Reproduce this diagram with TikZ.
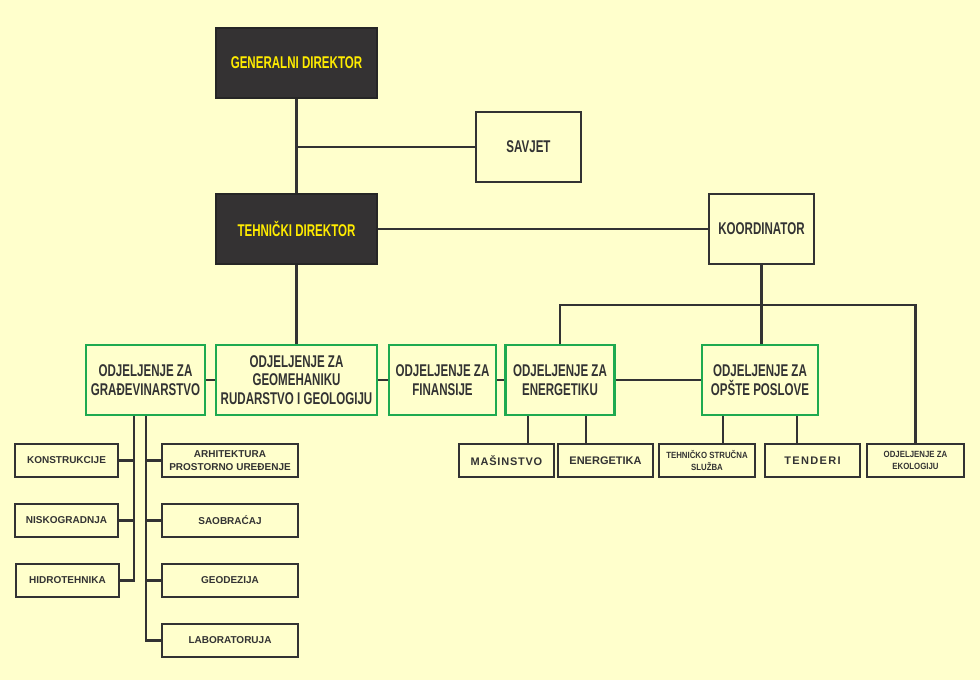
\documentclass[tikz,border=0pt]{standalone}
\usepackage{fontspec}
\setmainfont{Liberation Sans}
\newfontfamily\cond[FakeStretch=0.68]{Liberation Sans Bold}
\newfontfamily\scond[FakeStretch=0.87]{Liberation Sans Bold}
\newfontfamily\bsans{Liberation Sans Bold}
\definecolor{bg}{RGB}{255,255,204}
\definecolor{darkbox}{RGB}{52,50,51}
\definecolor{ytext}{RGB}{255,236,0}
\definecolor{txt}{RGB}{51,51,51}
\definecolor{line}{RGB}{51,51,51}
\definecolor{grn}{RGB}{30,170,80}
\tikzset{
  base/.style={rectangle, inner sep=0pt, align=center, text=txt},
  bigfont/.style={font=\cond\fontsize{17}{18.6}\selectfont},
  darkbox/.style={base, bigfont, fill=darkbox, draw=black!85, line width=1.2pt, text=ytext, minimum width=161pt, minimum height=70pt},
  plainbox/.style={base, bigfont, fill=bg, draw=line, line width=2pt, minimum height=70pt},
  dept/.style={base, bigfont, fill=bg, draw=grn, line width=2.6pt, minimum height=70pt},
  small/.style={base, fill=bg, draw=line, line width=2.4pt, minimum height=33pt, font=\bsans\fontsize{10}{12.3}\selectfont},
  smallb/.style={small, font=\bsans\fontsize{11}{12.5}\selectfont},
  smallc/.style={small, font=\scond\fontsize{9}{12}\selectfont},
  conn/.style={draw=line, line width=2.2pt}
}
\begin{document}
\begin{tikzpicture}[x=1pt,y=-1pt]
\fill[bg] (0,0) rectangle (980,680);
\useasboundingbox (0,0) rectangle (980,680);

% top level
\node[darkbox] (gd) at (296.5,63) {GENERALNI DIREKTOR};
\node[plainbox, minimum width=105pt] (savjet) at (528.5,147) {SAVJET};
\node[darkbox] (td) at (296.5,229) {TEHNIČKI DIREKTOR};
\node[plainbox, minimum width=105pt] (koord) at (761.5,229) {KOORDINATOR};

% departments
\node[dept, minimum width=119pt] (grad) at (145.5,380) {ODJELJENJE ZA\\GRAĐEVINARSTVO};
\node[dept, minimum width=161pt] (geo) at (296.5,380) {ODJELJENJE ZA\\GEOMEHANIKU\\RUDARSTVO I GEOLOGIJU};
\node[dept, minimum width=107pt] (fin) at (442.5,380) {ODJELJENJE ZA\\FINANSIJE};
\node[dept, minimum width=109pt] (ener) at (560,380) {ODJELJENJE ZA\\ENERGETIKU};
\node[dept, minimum width=116pt] (opste) at (760,380) {ODJELJENJE ZA\\OPŠTE POSLOVE};

% right sub-boxes
\node[smallb, minimum width=95pt] (masin) at (506.5,460.5) {\addfontfeature{LetterSpace=7}MAŠINSTVO};
\node[smallb, minimum width=95pt] (energetika) at (605.5,460.5) {ENERGETIKA};
\node[smallc, minimum width=96pt] (tehs) at (707,460.5) {TEHNIČKO STRUČNA\\SLUŽBA};
\node[smallb, minimum width=95pt] (tenderi) at (812.5,460.5) {\addfontfeature{LetterSpace=12}TENDERI};
\node[smallc, minimum width=97pt] (eko) at (915.5,460.5) {ODJELJENJE ZA\\EKOLOGIJU};

% left sub-boxes
\node[small, minimum width=103pt] (konstr) at (66.5,460.5) {KONSTRUKCIJE};
\node[small, minimum width=103pt] (nisko) at (66.5,520.5) {NISKOGRADNJA};
\node[small, minimum width=103pt] (hidro) at (67.5,580.5) {HIDROTEHNIKA};
\node[small, minimum width=136pt] (arh) at (230,460.5) {ARHITEKTURA\\PROSTORNO UREĐENJE};
\node[small, minimum width=136pt] (saob) at (230,520.5) {SAOBRAĆAJ};
\node[small, minimum width=136pt] (geod) at (230,580.5) {GEODEZIJA};
\node[small, minimum width=136pt] (lab) at (230,640.5) {LABORATORUJA};

% helper coordinates
\coordinate (bus) at (0,305);
\coordinate (tl) at (134,0);
\coordinate (tr) at (146,0);
\coordinate (e1) at (528,0);
\coordinate (e2) at (586,0);
\coordinate (o1) at (723,0);
\coordinate (o2) at (797,0);

% connectors
\draw[conn] (gd.south) -- (td.north);
\draw[conn] (savjet.west) -- (savjet.west -| gd.south);
\draw[conn] (td.east) -- (koord.west);
\draw[conn] (td.south) -- (geo.north);
\draw[conn] (koord.south) -- (koord.south |- opste.north);
\draw[conn] (ener.north) |- (bus -| eko.north) -- (eko.north);
\draw[conn] (grad.east) -- (geo.west);
\draw[conn] (geo.east) -- (fin.west);
\draw[conn] (fin.east) -- (ener.west);
\draw[conn] (ener.east) -- (opste.west);
\draw[conn] (e1 |- ener.south) -- (e1 |- masin.north);
\draw[conn] (e2 |- ener.south) -- (e2 |- energetika.north);
\draw[conn] (o1 |- opste.south) -- (o1 |- tehs.north);
\draw[conn] (o2 |- opste.south) -- (o2 |- tenderi.north);
\draw[conn] (tl |- grad.south) -- (tl |- hidro.east) -- (hidro.east);
\draw[conn] (konstr.east) -- (konstr.east -| tl);
\draw[conn] (nisko.east) -- (nisko.east -| tl);
\draw[conn] (tr |- grad.south) -- (tr |- lab.west) -- (lab.west);
\draw[conn] (arh.west) -- (arh.west -| tr);
\draw[conn] (saob.west) -- (saob.west -| tr);
\draw[conn] (geod.west) -- (geod.west -| tr);
\end{tikzpicture}
\end{document}
